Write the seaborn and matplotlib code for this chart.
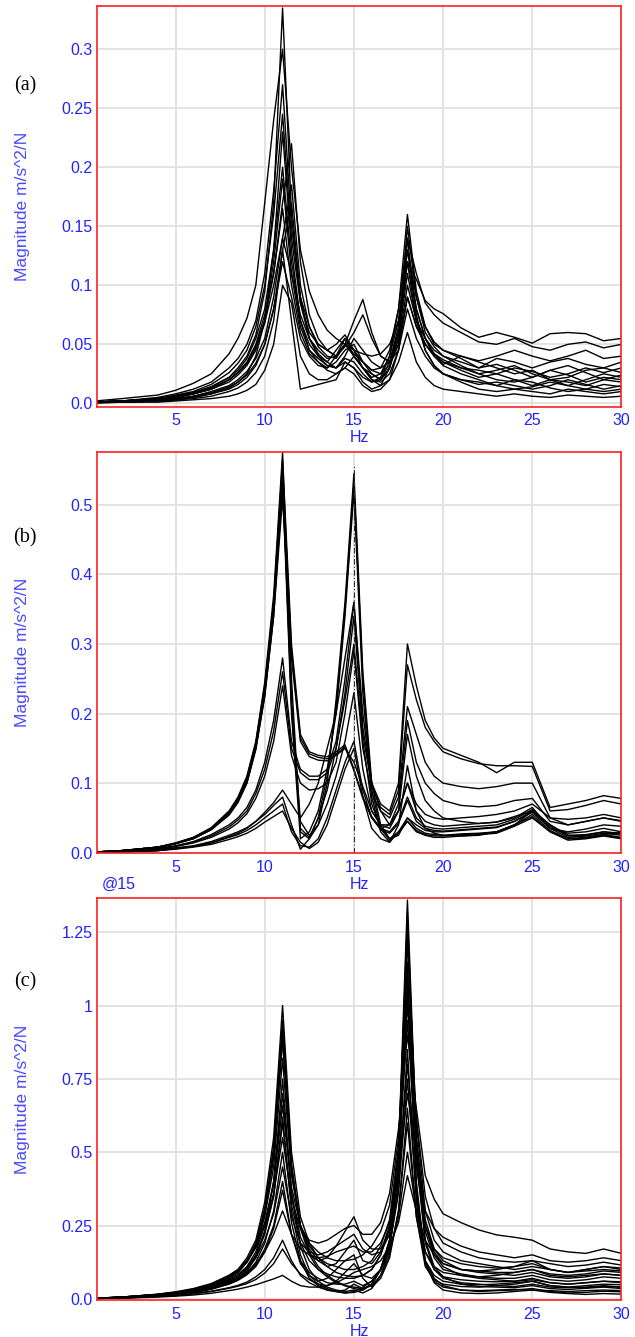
import matplotlib
matplotlib.use("Agg")
import pandas as pd
import matplotlib.pyplot as plt
import seaborn as sns

# frequency axis shared by all curves (Hz)
freq = [0.5, 2, 4, 5, 6, 7, 8, 8.5, 9, 9.5, 10,
        10.5, 11, 11.5, 12, 12.5, 13, 13.5, 14, 14.5, 15,
        15.5, 16, 16.5, 17, 17.5, 18, 18.5, 19, 19.5, 20,
        21, 22, 23, 24, 25, 26, 27, 28, 29, 30]

# =============================================================================
# panel (a) curves
# =============================================================================
a1 = [0.001, 0.002, 0.004, 0.006, 0.009, 0.014, 0.022, 0.03, 0.04, 0.058, 0.095,
      0.17, 0.335, 0.16, 0.085, 0.055, 0.042, 0.035, 0.03, 0.035, 0.03,
      0.022, 0.018, 0.022, 0.04, 0.08, 0.16, 0.095, 0.065, 0.05, 0.045,
      0.038, 0.03, 0.033, 0.028, 0.022, 0.028, 0.032, 0.026, 0.02, 0.024]
a2 = [0.002, 0.004, 0.007, 0.011, 0.017, 0.025, 0.042, 0.055, 0.072, 0.10, 0.17,
      0.24, 0.30, 0.20, 0.13, 0.095, 0.075, 0.062, 0.055, 0.05, 0.045,
      0.042, 0.04, 0.042, 0.05, 0.07, 0.12, 0.105, 0.087, 0.08, 0.076,
      0.064, 0.056, 0.06, 0.056, 0.051, 0.059, 0.06, 0.059, 0.053, 0.055]
a3 = [0.001, 0.002, 0.005, 0.008, 0.012, 0.018, 0.03, 0.038, 0.05, 0.07, 0.11,
      0.18, 0.27, 0.15, 0.09, 0.065, 0.05, 0.045, 0.05, 0.058, 0.045,
      0.035, 0.028, 0.03, 0.045, 0.08, 0.14, 0.11, 0.085, 0.075, 0.068,
      0.06, 0.052, 0.05, 0.055, 0.048, 0.045, 0.05, 0.052, 0.047, 0.05]
a4 = [0.001, 0.002, 0.004, 0.007, 0.01, 0.016, 0.026, 0.034, 0.045, 0.065, 0.10,
      0.16, 0.245, 0.14, 0.085, 0.06, 0.05, 0.045, 0.04, 0.05, 0.07,
      0.088, 0.06, 0.04, 0.035, 0.05, 0.1, 0.07, 0.055, 0.045, 0.04,
      0.035, 0.03, 0.038, 0.035, 0.03, 0.035, 0.038, 0.033, 0.03, 0.035]
a5 = [0.001, 0.002, 0.003, 0.005, 0.008, 0.012, 0.02, 0.026, 0.034, 0.048, 0.07,
      0.11, 0.17, 0.22, 0.12, 0.075, 0.055, 0.045, 0.04, 0.048, 0.06,
      0.075, 0.055, 0.04, 0.035, 0.045, 0.09, 0.065, 0.05, 0.04, 0.035,
      0.03, 0.028, 0.025, 0.03, 0.027, 0.022, 0.025, 0.03, 0.026, 0.03]
a6 = [0.001, 0.002, 0.004, 0.006, 0.009, 0.014, 0.022, 0.028, 0.038, 0.055, 0.08,
      0.13, 0.20, 0.12, 0.07, 0.05, 0.04, 0.035, 0.045, 0.055, 0.04,
      0.03, 0.022, 0.025, 0.04, 0.07, 0.13, 0.09, 0.06, 0.048, 0.04,
      0.032, 0.025, 0.02, 0.018, 0.022, 0.028, 0.024, 0.018, 0.022, 0.02]
a7 = [0.001, 0.002, 0.003, 0.004, 0.006, 0.01, 0.015, 0.02, 0.027, 0.038, 0.055,
      0.09, 0.14, 0.185, 0.1, 0.065, 0.048, 0.04, 0.038, 0.05, 0.04,
      0.03, 0.025, 0.02, 0.03, 0.06, 0.12, 0.08, 0.055, 0.042, 0.035,
      0.028, 0.022, 0.025, 0.02, 0.015, 0.02, 0.018, 0.015, 0.02, 0.018]
a8 = [0.001, 0.002, 0.003, 0.005, 0.008, 0.012, 0.02, 0.026, 0.035, 0.05, 0.075,
      0.11, 0.165, 0.1, 0.06, 0.042, 0.035, 0.03, 0.035, 0.045, 0.05,
      0.035, 0.025, 0.02, 0.03, 0.055, 0.11, 0.07, 0.05, 0.04, 0.033,
      0.04, 0.035, 0.03, 0.025, 0.028, 0.02, 0.015, 0.02, 0.025, 0.022]
a9 = [0.001, 0.001, 0.002, 0.003, 0.004, 0.006, 0.01, 0.013, 0.018, 0.026, 0.04,
      0.07, 0.13, 0.07, 0.012, 0.014, 0.016, 0.018, 0.02, 0.035, 0.03,
      0.018, 0.012, 0.015, 0.03, 0.06, 0.12, 0.07, 0.045, 0.032, 0.025,
      0.018, 0.012, 0.01, 0.012, 0.01, 0.008, 0.012, 0.01, 0.008, 0.01]
a10 = [0.001, 0.001, 0.002, 0.003, 0.005, 0.008, 0.012, 0.016, 0.022, 0.032, 0.05,
       0.08, 0.12, 0.09, 0.055, 0.04, 0.032, 0.03, 0.04, 0.055, 0.045,
       0.03, 0.02, 0.018, 0.025, 0.045, 0.08, 0.055, 0.04, 0.03, 0.025,
       0.02, 0.018, 0.015, 0.012, 0.014, 0.018, 0.015, 0.012, 0.01, 0.012]
a11 = [0.0, 0.001, 0.001, 0.002, 0.003, 0.004, 0.006, 0.008, 0.011, 0.016, 0.028,
       0.05, 0.1, 0.085, 0.04, 0.025, 0.02, 0.02, 0.025, 0.03, 0.025,
       0.015, 0.01, 0.012, 0.02, 0.035, 0.06, 0.035, 0.022, 0.015, 0.012,
       0.01, 0.008, 0.006, 0.008, 0.006, 0.005, 0.007, 0.006, 0.005, 0.006]
a12 = [0.001, 0.001, 0.002, 0.003, 0.005, 0.008, 0.013, 0.018, 0.025, 0.04, 0.07,
       0.13, 0.23, 0.13, 0.07, 0.045, 0.035, 0.028, 0.025, 0.03, 0.04,
       0.03, 0.02, 0.015, 0.02, 0.045, 0.14, 0.075, 0.045, 0.032, 0.025,
       0.02, 0.016, 0.018, 0.015, 0.012, 0.015, 0.02, 0.016, 0.012, 0.015]
a13 = [0.001, 0.001, 0.002, 0.004, 0.006, 0.009, 0.014, 0.018, 0.024, 0.034, 0.05,
       0.08, 0.13, 0.17, 0.09, 0.055, 0.04, 0.032, 0.03, 0.04, 0.055,
       0.045, 0.035, 0.03, 0.035, 0.06, 0.15, 0.09, 0.065, 0.052, 0.045,
       0.04, 0.036, 0.04, 0.045, 0.04, 0.036, 0.04, 0.045, 0.038, 0.04]
a14 = [0.001, 0.002, 0.004, 0.006, 0.009, 0.013, 0.02, 0.026, 0.034, 0.047, 0.068,
       0.1, 0.14, 0.11, 0.075, 0.055, 0.045, 0.038, 0.04, 0.05, 0.042,
       0.035, 0.028, 0.025, 0.032, 0.05, 0.09, 0.065, 0.05, 0.042, 0.037,
       0.03, 0.025, 0.028, 0.032, 0.025, 0.02, 0.022, 0.028, 0.03, 0.026]
a15 = [0.001, 0.002, 0.003, 0.005, 0.008, 0.012, 0.018, 0.024, 0.032, 0.045, 0.07,
       0.12, 0.19, 0.11, 0.065, 0.045, 0.038, 0.032, 0.03, 0.038, 0.035,
       0.025, 0.018, 0.02, 0.035, 0.065, 0.13, 0.08, 0.055, 0.04, 0.032,
       0.025, 0.02, 0.015, 0.02, 0.018, 0.013, 0.01, 0.012, 0.016, 0.014]

# =============================================================================
# panel (b) curves
# =============================================================================
b1 = [0.001, 0.003, 0.008, 0.014, 0.022, 0.036, 0.06, 0.08, 0.11, 0.16, 0.245,
      0.37, 0.575, 0.25, 0.03, 0.02, 0.05, 0.09, 0.15, 0.22, 0.30,
      0.16, 0.07, 0.035, 0.02, 0.025, 0.05, 0.04, 0.032, 0.03, 0.03,
      0.032, 0.034, 0.036, 0.045, 0.058, 0.035, 0.022, 0.024, 0.028, 0.025]
b2 = [0.001, 0.003, 0.008, 0.013, 0.021, 0.034, 0.057, 0.076, 0.105, 0.155, 0.235,
      0.355, 0.55, 0.22, 0.045, 0.025, 0.04, 0.1, 0.22, 0.36, 0.545,
      0.26, 0.1, 0.04, 0.02, 0.03, 0.045, 0.03, 0.025, 0.022, 0.022,
      0.024, 0.026, 0.028, 0.038, 0.05, 0.03, 0.018, 0.02, 0.024, 0.02]
b3 = [0.001, 0.003, 0.007, 0.013, 0.02, 0.033, 0.055, 0.074, 0.1, 0.15, 0.225,
      0.34, 0.53, 0.2, 0.02, 0.03, 0.06, 0.12, 0.2, 0.34, 0.52,
      0.23, 0.08, 0.03, 0.015, 0.03, 0.05, 0.035, 0.028, 0.026, 0.025,
      0.027, 0.028, 0.03, 0.04, 0.052, 0.03, 0.02, 0.022, 0.026, 0.022]
b4 = [0.001, 0.003, 0.008, 0.014, 0.022, 0.035, 0.058, 0.078, 0.108, 0.158, 0.24,
      0.36, 0.565, 0.3, 0.17, 0.145, 0.14, 0.138, 0.145, 0.155, 0.12,
      0.08, 0.052, 0.035, 0.03, 0.045, 0.08, 0.05, 0.038, 0.035, 0.034,
      0.036, 0.038, 0.04, 0.048, 0.062, 0.04, 0.025, 0.026, 0.03, 0.028]
b5 = [0.001, 0.003, 0.007, 0.013, 0.02, 0.033, 0.054, 0.072, 0.1, 0.148, 0.225,
      0.34, 0.51, 0.28, 0.16, 0.138, 0.133, 0.132, 0.14, 0.15, 0.13,
      0.095, 0.06, 0.04, 0.035, 0.06, 0.1, 0.06, 0.045, 0.04, 0.038,
      0.04, 0.042, 0.044, 0.052, 0.06, 0.035, 0.028, 0.03, 0.035, 0.03]
b6 = [0.001, 0.002, 0.006, 0.01, 0.016, 0.026, 0.04, 0.05, 0.065, 0.09, 0.13,
      0.19, 0.28, 0.16, 0.12, 0.11, 0.11, 0.12, 0.16, 0.25, 0.36,
      0.18, 0.1, 0.07, 0.06, 0.1, 0.30, 0.24, 0.19, 0.165, 0.15,
      0.14, 0.13, 0.115, 0.13, 0.13, 0.065, 0.07, 0.075, 0.082, 0.078]
b7 = [0.001, 0.002, 0.005, 0.009, 0.015, 0.024, 0.037, 0.047, 0.06, 0.085, 0.12,
      0.175, 0.26, 0.15, 0.115, 0.105, 0.105, 0.115, 0.15, 0.23, 0.34,
      0.17, 0.095, 0.065, 0.055, 0.09, 0.27, 0.22, 0.18, 0.16, 0.145,
      0.135, 0.128, 0.125, 0.125, 0.124, 0.06, 0.062, 0.068, 0.075, 0.07]
b8 = [0.001, 0.002, 0.005, 0.009, 0.014, 0.022, 0.034, 0.043, 0.056, 0.078, 0.11,
      0.16, 0.24, 0.14, 0.1, 0.09, 0.092, 0.1, 0.13, 0.2, 0.29,
      0.15, 0.085, 0.06, 0.05, 0.08, 0.21, 0.17, 0.13, 0.11, 0.1,
      0.095, 0.092, 0.095, 0.1, 0.1, 0.05, 0.048, 0.05, 0.055, 0.05]
b9 = [0.0, 0.001, 0.004, 0.007, 0.01, 0.016, 0.025, 0.03, 0.036, 0.045, 0.055,
      0.068, 0.08, 0.04, 0.005, 0.02, 0.04, 0.07, 0.11, 0.16, 0.23,
      0.12, 0.06, 0.04, 0.04, 0.07, 0.19, 0.13, 0.1, 0.085, 0.075,
      0.068, 0.066, 0.068, 0.075, 0.078, 0.045, 0.04, 0.045, 0.05, 0.045]
b10 = [0.0, 0.001, 0.003, 0.006, 0.009, 0.014, 0.022, 0.026, 0.032, 0.04, 0.05,
       0.06, 0.07, 0.03, 0.01, 0.008, 0.02, 0.05, 0.09, 0.13, 0.16,
       0.09, 0.05, 0.035, 0.04, 0.06, 0.17, 0.11, 0.075, 0.06, 0.05,
       0.045, 0.042, 0.044, 0.05, 0.065, 0.035, 0.03, 0.034, 0.04, 0.038]
b11 = [0.0, 0.001, 0.003, 0.005, 0.008, 0.012, 0.019, 0.023, 0.028, 0.035, 0.044,
       0.052, 0.06, 0.035, 0.015, 0.006, 0.015, 0.04, 0.08, 0.12, 0.15,
       0.08, 0.035, 0.02, 0.015, 0.04, 0.125, 0.06, 0.035, 0.028, 0.025,
       0.024, 0.025, 0.03, 0.04, 0.06, 0.04, 0.025, 0.022, 0.026, 0.03]
b12 = [0.0, 0.001, 0.003, 0.006, 0.009, 0.014, 0.023, 0.028, 0.035, 0.045, 0.058,
       0.072, 0.09, 0.07, 0.05, 0.07, 0.1, 0.15, 0.2, 0.28, 0.36,
       0.2, 0.1, 0.06, 0.04, 0.06, 0.1, 0.07, 0.055, 0.05, 0.048,
       0.05, 0.052, 0.055, 0.06, 0.07, 0.05, 0.04, 0.045, 0.05, 0.046]
b13 = [0.001, 0.003, 0.008, 0.013, 0.021, 0.034, 0.056, 0.075, 0.104, 0.152, 0.23,
       0.35, 0.545, 0.21, 0.035, 0.022, 0.05, 0.11, 0.21, 0.35, 0.53,
       0.25, 0.09, 0.035, 0.018, 0.028, 0.045, 0.032, 0.026, 0.024, 0.024,
       0.026, 0.027, 0.03, 0.04, 0.055, 0.032, 0.02, 0.021, 0.025, 0.021]
b14 = [0.001, 0.003, 0.008, 0.013, 0.021, 0.034, 0.056, 0.075, 0.105, 0.153, 0.232,
       0.35, 0.55, 0.29, 0.165, 0.142, 0.137, 0.135, 0.142, 0.152, 0.118,
       0.078, 0.05, 0.033, 0.028, 0.042, 0.075, 0.045, 0.035, 0.032, 0.031,
       0.033, 0.035, 0.037, 0.045, 0.06, 0.038, 0.024, 0.025, 0.03, 0.027]

# =============================================================================
# panel (c) curves
# =============================================================================
c1 = [0.002, 0.006, 0.015, 0.022, 0.033, 0.05, 0.08, 0.1, 0.14, 0.2, 0.33,
      0.55, 1.0, 0.5, 0.28, 0.19, 0.14, 0.11, 0.09, 0.08, 0.075,
      0.08, 0.1, 0.15, 0.24, 0.5, 1.36, 0.55, 0.25, 0.15, 0.11,
      0.08, 0.07, 0.065, 0.06, 0.065, 0.055, 0.05, 0.055, 0.06, 0.055]
c2 = [0.002, 0.005, 0.014, 0.02, 0.03, 0.046, 0.074, 0.093, 0.13, 0.19, 0.31,
      0.52, 0.95, 0.46, 0.25, 0.16, 0.11, 0.08, 0.06, 0.045, 0.035,
      0.03, 0.05, 0.1, 0.2, 0.45, 1.32, 0.5, 0.2, 0.11, 0.075,
      0.05, 0.042, 0.04, 0.038, 0.045, 0.035, 0.032, 0.036, 0.04, 0.035]
c3 = [0.002, 0.006, 0.014, 0.02, 0.03, 0.045, 0.072, 0.09, 0.125, 0.18, 0.29,
      0.48, 0.88, 0.44, 0.25, 0.17, 0.13, 0.11, 0.12, 0.16, 0.2,
      0.13, 0.12, 0.16, 0.25, 0.5, 1.28, 0.55, 0.27, 0.17, 0.13,
      0.1, 0.09, 0.085, 0.08, 0.09, 0.075, 0.07, 0.075, 0.085, 0.08]
c4 = [0.002, 0.006, 0.015, 0.022, 0.032, 0.048, 0.075, 0.094, 0.125, 0.175, 0.28,
      0.45, 0.82, 0.42, 0.25, 0.18, 0.14, 0.12, 0.11, 0.1, 0.1,
      0.11, 0.13, 0.18, 0.27, 0.52, 1.22, 0.6, 0.3, 0.2, 0.16,
      0.13, 0.12, 0.11, 0.1, 0.11, 0.1, 0.09, 0.095, 0.1, 0.095]
c5 = [0.001, 0.004, 0.01, 0.015, 0.022, 0.034, 0.055, 0.07, 0.095, 0.14, 0.23,
      0.4, 0.75, 0.36, 0.18, 0.1, 0.06, 0.04, 0.03, 0.025, 0.03,
      0.02, 0.035, 0.08, 0.17, 0.4, 1.15, 0.4, 0.13, 0.07, 0.045,
      0.03, 0.025, 0.028, 0.03, 0.035, 0.025, 0.02, 0.022, 0.026, 0.024]
c6 = [0.002, 0.005, 0.013, 0.019, 0.028, 0.042, 0.066, 0.083, 0.11, 0.16, 0.25,
      0.4, 0.7, 0.36, 0.21, 0.15, 0.13, 0.14, 0.18, 0.23, 0.28,
      0.2, 0.17, 0.17, 0.22, 0.45, 1.1, 0.5, 0.23, 0.14, 0.1,
      0.085, 0.075, 0.07, 0.07, 0.08, 0.065, 0.06, 0.065, 0.075, 0.07]
c7 = [0.002, 0.006, 0.015, 0.022, 0.033, 0.05, 0.078, 0.097, 0.13, 0.18, 0.26,
      0.39, 0.66, 0.38, 0.25, 0.19, 0.16, 0.14, 0.13, 0.13, 0.135,
      0.15, 0.18, 0.23, 0.32, 0.55, 1.0, 0.62, 0.35, 0.24, 0.19,
      0.16, 0.14, 0.13, 0.125, 0.13, 0.12, 0.11, 0.115, 0.125, 0.115]
c8 = [0.002, 0.005, 0.012, 0.018, 0.027, 0.04, 0.063, 0.08, 0.105, 0.15, 0.23,
      0.35, 0.6, 0.32, 0.19, 0.13, 0.1, 0.085, 0.075, 0.07, 0.07,
      0.08, 0.1, 0.15, 0.24, 0.46, 0.95, 0.48, 0.25, 0.16, 0.12,
      0.1, 0.095, 0.09, 0.09, 0.1, 0.085, 0.08, 0.085, 0.095, 0.09]
c9 = [0.002, 0.006, 0.016, 0.024, 0.035, 0.052, 0.08, 0.1, 0.13, 0.175, 0.25,
      0.36, 0.55, 0.34, 0.24, 0.2, 0.19, 0.2, 0.22, 0.24, 0.25,
      0.22, 0.22, 0.26, 0.36, 0.58, 0.9, 0.65, 0.42, 0.34, 0.29,
      0.26, 0.235, 0.218, 0.21, 0.2, 0.17, 0.16, 0.155, 0.17, 0.155]
c10 = [0.001, 0.004, 0.01, 0.015, 0.022, 0.033, 0.052, 0.066, 0.088, 0.125, 0.19,
       0.3, 0.5, 0.26, 0.13, 0.07, 0.045, 0.03, 0.025, 0.02, 0.025,
       0.04, 0.06, 0.1, 0.18, 0.38, 0.85, 0.33, 0.12, 0.06, 0.04,
       0.03, 0.028, 0.03, 0.032, 0.03, 0.028, 0.025, 0.028, 0.03, 0.028]
c11 = [0.002, 0.005, 0.013, 0.019, 0.028, 0.042, 0.064, 0.08, 0.105, 0.14, 0.2,
       0.29, 0.45, 0.28, 0.19, 0.16, 0.15, 0.16, 0.18, 0.2, 0.22,
       0.17, 0.15, 0.16, 0.22, 0.42, 0.8, 0.45, 0.25, 0.17, 0.14,
       0.12, 0.11, 0.105, 0.11, 0.13, 0.1, 0.09, 0.1, 0.11, 0.1]
c12 = [0.001, 0.004, 0.01, 0.015, 0.022, 0.033, 0.05, 0.063, 0.082, 0.11, 0.16,
       0.24, 0.37, 0.22, 0.13, 0.09, 0.07, 0.055, 0.05, 0.05, 0.06,
       0.045, 0.06, 0.1, 0.18, 0.36, 0.75, 0.35, 0.16, 0.1, 0.075,
       0.065, 0.06, 0.058, 0.06, 0.07, 0.055, 0.05, 0.055, 0.06, 0.058]
c13 = [0.002, 0.005, 0.013, 0.019, 0.028, 0.04, 0.06, 0.073, 0.09, 0.12, 0.16,
       0.22, 0.3, 0.22, 0.17, 0.15, 0.14, 0.145, 0.16, 0.17, 0.18,
       0.16, 0.16, 0.19, 0.26, 0.42, 0.7, 0.5, 0.3, 0.24, 0.21,
       0.18, 0.16, 0.15, 0.14, 0.15, 0.13, 0.125, 0.13, 0.14, 0.13]
c14 = [0.001, 0.003, 0.008, 0.012, 0.018, 0.026, 0.038, 0.046, 0.057, 0.075, 0.1,
       0.14, 0.2, 0.13, 0.08, 0.055, 0.04, 0.03, 0.025, 0.03, 0.05,
       0.035, 0.045, 0.08, 0.15, 0.3, 0.6, 0.28, 0.13, 0.08, 0.06,
       0.05, 0.048, 0.05, 0.055, 0.06, 0.045, 0.04, 0.045, 0.05, 0.048]
c15 = [0.001, 0.003, 0.008, 0.012, 0.017, 0.025, 0.036, 0.043, 0.052, 0.066, 0.088,
       0.12, 0.17, 0.12, 0.085, 0.065, 0.05, 0.045, 0.06, 0.09, 0.12,
       0.08, 0.07, 0.1, 0.16, 0.28, 0.5, 0.3, 0.16, 0.11, 0.09,
       0.08, 0.075, 0.08, 0.09, 0.1, 0.08, 0.075, 0.08, 0.085, 0.08]
c16 = [0.001, 0.002, 0.006, 0.009, 0.013, 0.019, 0.028, 0.033, 0.04, 0.048, 0.058,
       0.068, 0.08, 0.06, 0.045, 0.04, 0.04, 0.045, 0.055, 0.07, 0.09,
       0.1, 0.11, 0.13, 0.18, 0.26, 0.42, 0.3, 0.2, 0.15, 0.12,
       0.1, 0.095, 0.1, 0.11, 0.12, 0.1, 0.09, 0.1, 0.11, 0.105]
c17 = [0.001, 0.004, 0.011, 0.016, 0.024, 0.036, 0.058, 0.074, 0.1, 0.145, 0.22,
       0.35, 0.62, 0.3, 0.15, 0.08, 0.05, 0.035, 0.025, 0.02, 0.022,
       0.03, 0.05, 0.1, 0.2, 0.45, 1.05, 0.38, 0.12, 0.055, 0.03,
       0.02, 0.018, 0.02, 0.025, 0.03, 0.022, 0.018, 0.015, 0.018, 0.016]
c18 = [0.001, 0.004, 0.011, 0.016, 0.023, 0.034, 0.052, 0.065, 0.085, 0.115, 0.17,
       0.25, 0.4, 0.22, 0.12, 0.08, 0.06, 0.07, 0.1, 0.13, 0.15,
       0.07, 0.04, 0.07, 0.14, 0.3, 0.65, 0.28, 0.11, 0.065, 0.05,
       0.042, 0.04, 0.045, 0.05, 0.06, 0.045, 0.04, 0.038, 0.042, 0.04]
c19 = [0.002, 0.005, 0.013, 0.019, 0.029, 0.044, 0.07, 0.09, 0.125, 0.18, 0.3,
       0.5, 0.92, 0.45, 0.24, 0.15, 0.1, 0.075, 0.055, 0.045, 0.04,
       0.035, 0.05, 0.1, 0.2, 0.45, 1.25, 0.48, 0.19, 0.1, 0.07,
       0.055, 0.05, 0.045, 0.042, 0.05, 0.04, 0.038, 0.04, 0.045, 0.04]

curves_a = [a1, a2, a3, a4, a5, a6, a7, a8, a9, a10, a11, a12, a13, a14, a15]
curves_b = [b1, b2, b3, b4, b5, b6, b7, b8, b9, b10, b11, b12, b13, b14]
curves_c = [c1, c2, c3, c4, c5, c6, c7, c8, c9, c10, c11, c12, c13, c14, c15,
            c16, c17, c18, c19]

xticks = [5, 10, 15, 20, 25, 30]
xtick_labels = ["5", "10", "15", "20", "25", "30"]
yticks_a = [0.0, 0.05, 0.1, 0.15, 0.2, 0.25, 0.3]
ylabels_a = ["0.0", "0.05", "0.1", "0.15", "0.2", "0.25", "0.3"]
yticks_b = [0.0, 0.1, 0.2, 0.3, 0.4, 0.5]
ylabels_b = ["0.0", "0.1", "0.2", "0.3", "0.4", "0.5"]
yticks_c = [0.0, 0.25, 0.5, 0.75, 1.0, 1.25]
ylabels_c = ["0.0", "0.25", "0.5", "0.75", "1", "1.25"]

BLUE = "#2222ff"

sns.set_style("white")
plt.rcParams['font.family'] = ['Liberation Sans', 'DejaVu Sans']


def to_long(curves):
    rows = []
    for k, vals in enumerate(curves):
        assert len(vals) == len(freq), (k, len(vals))
        for f, v in zip(freq, vals):
            rows.append((f, v, k))
    return pd.DataFrame(rows, columns=["Hz", "mag", "curve"])


def draw_panel(ax, curves, yticks, ylabels, ylim, hz_off):
    dt = to_long(curves)
    sns.lineplot(data=dt, x="Hz", y="mag", units="curve", estimator=None,
                 color="black", linewidth=1.0, ax=ax, legend=False)
    ax.set_xlim(0.58, 30)
    ax.set_ylim(*ylim)
    ax.set_xticks(xticks)
    ax.set_xticklabels(xtick_labels)
    ax.set_yticks(yticks)
    ax.set_yticklabels(ylabels)
    ax.grid(True, color="#e2e2e2", linewidth=1.4)
    ax.set_axisbelow(True)
    for s in ax.spines.values():
        s.set_visible(True)
        s.set_color("#ff2020")
        s.set_linewidth(1.2)
    ax.tick_params(axis="both", length=0, labelcolor=BLUE, labelsize=11.5)
    ax.tick_params(axis="x", pad=5)
    ax.tick_params(axis="y", pad=3)
    ax.set_xlabel("")
    ax.set_ylabel("")
    ax.text(0.5, hz_off, "Hz", transform=ax.transAxes, ha="center",
            va="center", color=BLUE, fontsize=11.5)
    ax.text(-0.142, 0.5, "Magnitude m/s^2/N", transform=ax.transAxes,
            rotation=90, ha="center", va="center", color="#4a4aff",
            fontsize=12.5)


fig = plt.figure(figsize=(6.35, 13.37), dpi=100)

L, W = 0.1523, 0.8264
ax_a = fig.add_axes([L, 0.69596, W, 0.29978])
ax_b = fig.add_axes([L, 0.36223, W, 0.29970])
ax_c = fig.add_axes([L, 0.02767, W, 0.30045])

draw_panel(ax_a, curves_a, yticks_a, ylabels_a, (-0.0027, 0.337), -31 / 400.8)
draw_panel(ax_b, curves_b, yticks_b, ylabels_b, (0.0, 0.576), -31.5 / 400.7)
draw_panel(ax_c, curves_c, yticks_c, ylabels_c, (-0.004, 1.366), -31 / 401.7)

# cursor line at 15 Hz in panel (b)
ax_b.axvline(15, ymin=0, ymax=0.97, color="#303030", linewidth=0.8,
             linestyle=(0, (5, 2, 1, 2)))

fig.text(102 / 635, 1 - 884.5 / 1337, "@15", ha="left", va="center",
         color=BLUE, fontsize=11.5)

for lab, ypix in [("(a)", 86), ("(b)", 538), ("(c)", 982)]:
    fig.text(25 / 635, 1 - ypix / 1337, lab, ha="center", va="center",
             fontsize=14.5, family="Liberation Serif", color="black")

fig.savefig("out.png", dpi=100)
